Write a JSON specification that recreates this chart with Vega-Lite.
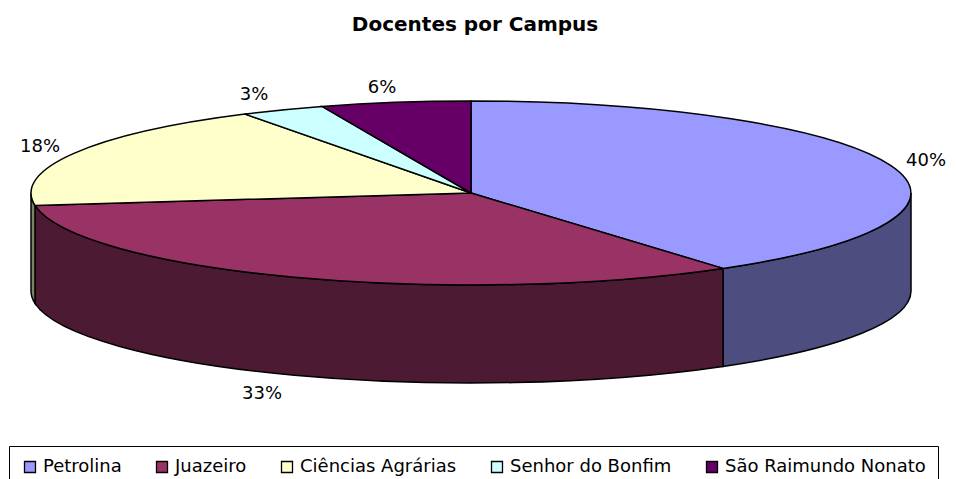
{
"$schema":"https://vega.github.io/schema/vega-lite/v6.json",
"width":956,"height":479,"autosize":{"type":"none"},"padding":0,"background":"white",
"title":{"text":"Docentes por Campus","font":"DejaVu Sans","fontSize":20,"fontWeight":"bold","color":"black","anchor":"middle","frame":"group","baseline":"alphabetic","dx":-3,"dy":55},
"data":{"values":[
{"campus":"Petrolina","percent":40,"label":"40%"},
{"campus":"Juazeiro","percent":33,"label":"33%"},
{"campus":"Ciências Agrárias","percent":18,"label":"18%"},
{"campus":"Senhor do Bonfim","percent":3,"label":"3%"},
{"campus":"São Raimundo Nonato","percent":6,"label":"6%"}]},
"config":{"view":{"stroke":null}},
"resolve":{"scale":{"fill":"independent","shape":"independent"},"legend":{"fill":"independent"}},
"layer":[
{"transform":[{"filter":"datum.percent>=18"}],
"mark":{"type":"point","filled":true,"size":40000,"stroke":"black","strokeWidth":1.5,"opacity":1},
"encoding":{
"fill":{"field":"campus","type":"nominal","legend":null,"scale":{"domain":["Petrolina","Juazeiro","Ciências Agrárias"],"range":["#4D4D80","#4D1A33","#808066"]}},
"shape":{"field":"campus","type":"nominal","legend":null,"scale":{"domain":["Petrolina","Juazeiro","Ciências Agrárias"],"range":[
"M 4.33 -0.465 A 4.4 0.92 0 0 1 2.45 0.289 L 2.45 1.269 A 4.4 0.92 0 0 0 4.33 0.515 Z",
"M 2.45 0.289 A 4.4 0.92 0 0 1 -4.43 -0.341 L -4.43 0.639 A 4.4 0.92 0 0 0 2.45 1.269 Z",
"M -4.43 -0.341 A 4.4 0.92 0 0 1 -4.47 -0.465 L -4.47 0.515 A 4.4 0.92 0 0 0 -4.43 0.639 Z"]}}}},
{"mark":{"type":"point","filled":true,"size":40000,"stroke":"black","strokeWidth":1.5,"opacity":1},
"encoding":{
"fill":{"field":"campus","type":"nominal","scale":{"domain":["Petrolina","Juazeiro","Ciências Agrárias","Senhor do Bonfim","São Raimundo Nonato"],"range":["#9999FF","#993366","#FFFFCC","#CCFFFF","#660066"]},"legend":null},
"shape":{"field":"campus","type":"nominal","legend":null,"scale":{"domain":["Petrolina","Juazeiro","Ciências Agrárias","Senhor do Bonfim","São Raimundo Nonato"],"range":[
"M -0.07 -0.465 L -0.07 -1.385 A 4.4 0.92 0 0 1 2.45 0.289 Z",
"M -0.07 -0.465 L 2.45 0.289 A 4.4 0.92 0 0 1 -4.43 -0.341 Z",
"M -0.07 -0.465 L -4.43 -0.341 A 4.4 0.92 0 0 1 -2.33 -1.254 Z",
"M -0.07 -0.465 L -2.33 -1.254 A 4.4 0.92 0 0 1 -1.56 -1.331 Z",
"M -0.07 -0.465 L -1.56 -1.331 A 4.4 0.92 0 0 1 -0.07 -1.385 Z"]}}}},
{"transform":[{"filter":"datum.percent==40"}],"mark":{"type":"text","font":"DejaVu Sans","fontSize":18,"color":"black","dx":448,"dy":-79},"encoding":{"text":{"field":"label"}}},
{"transform":[{"filter":"datum.percent==33"}],"mark":{"type":"text","font":"DejaVu Sans","fontSize":18,"color":"black","dx":-216,"dy":154},"encoding":{"text":{"field":"label"}}},
{"transform":[{"filter":"datum.percent==18"}],"mark":{"type":"text","font":"DejaVu Sans","fontSize":18,"color":"black","dx":-438,"dy":-93},"encoding":{"text":{"field":"label"}}},
{"transform":[{"filter":"datum.percent==3"}],"mark":{"type":"text","font":"DejaVu Sans","fontSize":18,"color":"black","dx":-224,"dy":-145},"encoding":{"text":{"field":"label"}}},
{"transform":[{"filter":"datum.percent==6"}],"mark":{"type":"text","font":"DejaVu Sans","fontSize":18,"color":"black","dx":-96,"dy":-152},"encoding":{"text":{"field":"label"}}},
{"mark":{"type":"point","filled":true,"size":1,"opacity":0},
"encoding":{
"color":{"field":"campus","type":"nominal","sort":null,"scale":{"domain":["Petrolina","Juazeiro","Ciências Agrárias","Senhor do Bonfim","São Raimundo Nonato"],"range":["#9999FF","#993366","#FFFFCC","#CCFFFF","#660066"]},
"legend":{"title":null,"orient":"none","legendX":9,"legendY":446,"direction":"horizontal","columns":5,"gridAlign":"each","symbolType":"square","symbolSize":121,"symbolStrokeColor":"black","symbolStrokeWidth":1.3,"symbolOpacity":1,"labelFont":"DejaVu Sans","labelFontSize":18,"labelColor":"black","labelLimit":300,"labelOffset":4,"columnPadding":31,"padding":12,"strokeColor":"black","fillColor":"white"}}}}
]}
